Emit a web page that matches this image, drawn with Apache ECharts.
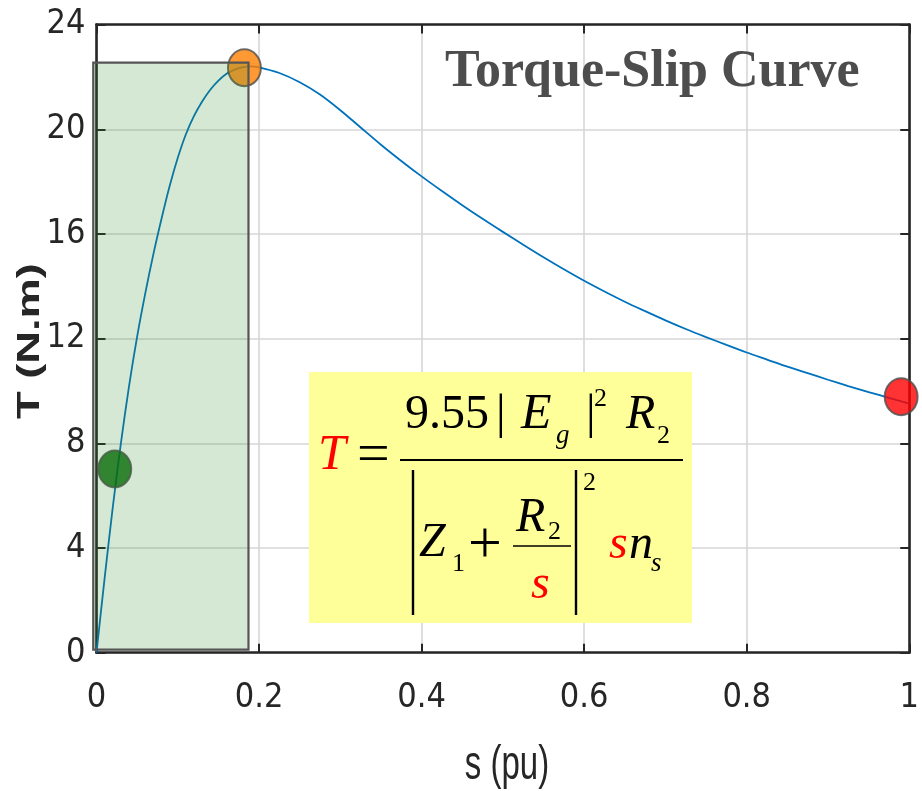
<!DOCTYPE html>
<html>
<head>
<meta charset="utf-8">
<script src="https://cdn.jsdelivr.net/npm/echarts@6/dist/echarts.min.js"></script>
<style>
html,body{margin:0;padding:0;background:#fff;}
#chart{width:922px;height:791px;}
</style>
</head>
<body>
<div id="chart"></div>
<script>
// ---- data ----
const slipValues   = [0, 0.01, 0.02, 0.03, 0.04, 0.05, 0.06, 0.07, 0.08, 0.09, 0.1, 0.11, 0.12, 0.13, 0.14, 0.15, 0.16, 0.17, 0.18, 0.19, 0.2,
                      0.225, 0.25, 0.275, 0.3, 0.325, 0.35, 0.375, 0.4, 0.425, 0.45, 0.475, 0.5, 0.525, 0.55, 0.575, 0.6,
                      0.625, 0.65, 0.675, 0.7, 0.725, 0.75, 0.775, 0.8, 0.825, 0.85, 0.875, 0.9, 0.925, 0.95, 0.975, 1.0];
const torqueValues = [0, 2.85, 5.55, 8.0, 10.18, 12.08, 13.73, 15.23, 16.58, 17.83, 18.91, 19.81, 20.51, 21.06, 21.51, 21.86, 22.12, 22.28, 22.37, 22.4, 22.37,
                      22.15, 21.8, 21.33, 20.73, 20.07, 19.41, 18.79, 18.2, 17.64, 17.1, 16.58, 16.08, 15.59, 15.11, 14.65, 14.21,
                      13.8, 13.41, 13.05, 12.7, 12.37, 12.06, 11.76, 11.47, 11.2, 10.93, 10.68, 10.43, 10.19, 9.96, 9.74, 9.52];
const startPoint = [0.0225, 7.02];   // green
const peakPoint  = [0.182, 22.35];   // orange
const lockPoint  = [0.99, 9.78];     // red
const stableRegion = [-0.004, 0.12, 0.187, 22.55]; // s0, T0, s1, T1
const xTicks = {min: 0, max: 1, interval: 0.2};
const yTicks = {min: 0, max: 24, interval: 4};
const titleText = 'Torque-Slip Curve';
const xName = 's (pu)';
const yName = 'T (N.m)';

const curve = slipValues.map((s, i) => [s, torqueValues[i]]);

const tickFont = {fontFamily: '"Liberation Sans Narrow","Arial Narrow","DejaVu Sans Condensed",sans-serif', fontSize: 34, color: '#262626'};
const axisLineStyle = {color: '#262626', width: 2.6};
const splitStyle = {lineStyle: {color: '#d6d6d6', width: 1.6}};

// formula pieces: text, left x, baseline y, size, italic, colour
const SER = '"Liberation Serif","Times New Roman",serif';
const formulaPieces = [
  ['T', 318, 473, 50, true, '#ff0000'],
  ['=', 357, 476, 58, false, '#000'],
  ['9.55', 405, 432, 48, false, '#000'],
  ['|', 496, 432, 48, false, '#000'],
  ['E', 521, 432, 50, true, '#000'],
  ['g', 556, 445, 27, true, '#000'],
  ['|', 586, 432, 48, false, '#000'],
  ['2', 594, 408, 26, false, '#000'],
  ['R', 626, 432, 48, true, '#000'],
  ['2', 657, 445, 26, false, '#000'],
  ['Z', 419, 560, 48, true, '#000'],
  ['1', 452, 573, 26, false, '#000'],
  ['+', 468, 566, 60, false, '#000'],
  ['R', 516, 535, 48, true, '#000'],
  ['2', 548, 541, 26, false, '#000'],
  ['s', 531, 602, 48, true, '#ff0000'],
  ['2', 583, 492, 26, false, '#000'],
  ['s', 609, 562, 48, true, '#ff0000'],
  ['n', 629, 562, 48, true, '#000'],
  ['s', 651, 573, 27, true, '#000']
];
const formulaLines = [
  [400, 460, 683, 460, 2],
  [513, 546, 571, 546, 1.6],
  [413, 470, 413, 615, 2.4],
  [576, 470, 576, 615, 2.4]
];

const graphics = [
  {type: 'rect', z: 3, shape: {x: 309, y: 372, width: 383, height: 251}, style: {fill: '#ffff99'}}
];
formulaPieces.forEach(p => {
  graphics.push({type: 'text', z: 4, x: p[1], y: p[2] - 0.3375 * p[3],
    style: {text: p[0], font: (p[4] ? 'italic ' : '') + p[3] + 'px ' + SER, fill: p[5], align: 'left', verticalAlign: 'middle'}});
});
formulaLines.forEach(l => {
  graphics.push({type: 'line', z: 4, shape: {x1: l[0], y1: l[1], x2: l[2], y2: l[3]}, style: {stroke: '#000', lineWidth: l[4]}});
});
// axis titles (stretched like the reference)
graphics.push({type: 'text', z: 4, x: 30, y: 341, rotation: Math.PI / 2, scaleX: 1.46,
  style: {text: yName, font: 'bold 31px "Liberation Sans",Arial,sans-serif', fill: '#262626', align: 'center', verticalAlign: 'middle'}});
graphics.push({type: 'text', z: 4, x: 507, y: 766, scaleY: 1.46,
  style: {text: xName, font: '33px "Liberation Sans",Arial,sans-serif', fill: '#262626', align: 'center', verticalAlign: 'middle'}});

const chart = echarts.init(document.getElementById('chart'), null, {renderer: 'canvas'});
chart.setOption({
  animation: false,
  backgroundColor: '#ffffff',
  title: {
    text: titleText, left: 445, top: 47, padding: 0,
    textStyle: {fontFamily: SER, fontWeight: 'bold', fontSize: 52, color: '#4d4d4d'}
  },
  grid: {left: 96.5, right: 5, top: 24.6, bottom: 138.3, containLabel: false},
  xAxis: [
    {type: 'value', position: 'bottom', min: xTicks.min, max: xTicks.max, interval: xTicks.interval,
     axisLine: {show: true, onZero: false, lineStyle: axisLineStyle},
     axisTick: {show: true, inside: true, length: 9, lineStyle: {color: '#262626', width: 2}},
     axisLabel: Object.assign({margin: 28}, tickFont),
     splitLine: Object.assign({show: true}, splitStyle)},
    {type: 'value', position: 'top', min: xTicks.min, max: xTicks.max, interval: xTicks.interval,
     axisLine: {show: true, onZero: false, lineStyle: axisLineStyle},
     axisTick: {show: true, inside: true, length: 9, lineStyle: {color: '#262626', width: 2}},
     axisLabel: {show: false}, splitLine: {show: false}}
  ],
  yAxis: [
    {type: 'value', position: 'left', min: yTicks.min, max: yTicks.max, interval: yTicks.interval,
     axisLine: {show: true, onZero: false, lineStyle: axisLineStyle},
     axisTick: {show: true, inside: true, length: 9, lineStyle: {color: '#262626', width: 2}},
     axisLabel: Object.assign({margin: 11}, tickFont),
     splitLine: Object.assign({show: true}, splitStyle)},
    {type: 'value', position: 'right', min: yTicks.min, max: yTicks.max, interval: yTicks.interval,
     axisLine: {show: true, onZero: false, lineStyle: axisLineStyle},
     axisTick: {show: true, inside: true, length: 9, lineStyle: {color: '#262626', width: 2}},
     axisLabel: {show: false}, splitLine: {show: false}}
  ],
  series: [
    {type: 'line', name: 'Torque', data: curve, showSymbol: false, smooth: 0.3,
     lineStyle: {color: '#0072bd', width: 1.8}, z: 3, silent: true},
    {type: 'scatter', name: 'start', data: [startPoint], symbol: 'circle', symbolSize: [33, 37],
     itemStyle: {color: '#006400', borderColor: '#4d4d4d', borderWidth: 2}, z: 4},
    {type: 'scatter', name: 'peak', data: [peakPoint], symbol: 'circle', symbolSize: [33, 37],
     itemStyle: {color: '#ff8000', borderColor: '#4d4d4d', borderWidth: 2}, z: 4},
    {type: 'scatter', name: 'locked', data: [lockPoint], symbol: 'circle', symbolSize: [33, 37], clip: false,
     itemStyle: {color: '#ff0000', borderColor: '#4d4d4d', borderWidth: 2}, z: 4},
    {type: 'custom', name: 'stable', data: [stableRegion], clip: false, z: 6, silent: true,
     encode: {x: [0, 2], y: [1, 3]},
     renderItem: function (params, api) {
       const p0 = api.coord([api.value(0), api.value(3)]);
       const p1 = api.coord([api.value(2), api.value(1)]);
       return {type: 'rect', shape: {x: p0[0], y: p0[1], width: p1[0] - p0[0], height: p1[1] - p0[1]},
         style: {fill: 'rgba(45,140,40,0.2)', stroke: '#555555', lineWidth: 2.2}};
     }}
  ],
  graphic: graphics
});
</script>
</body>
</html>
